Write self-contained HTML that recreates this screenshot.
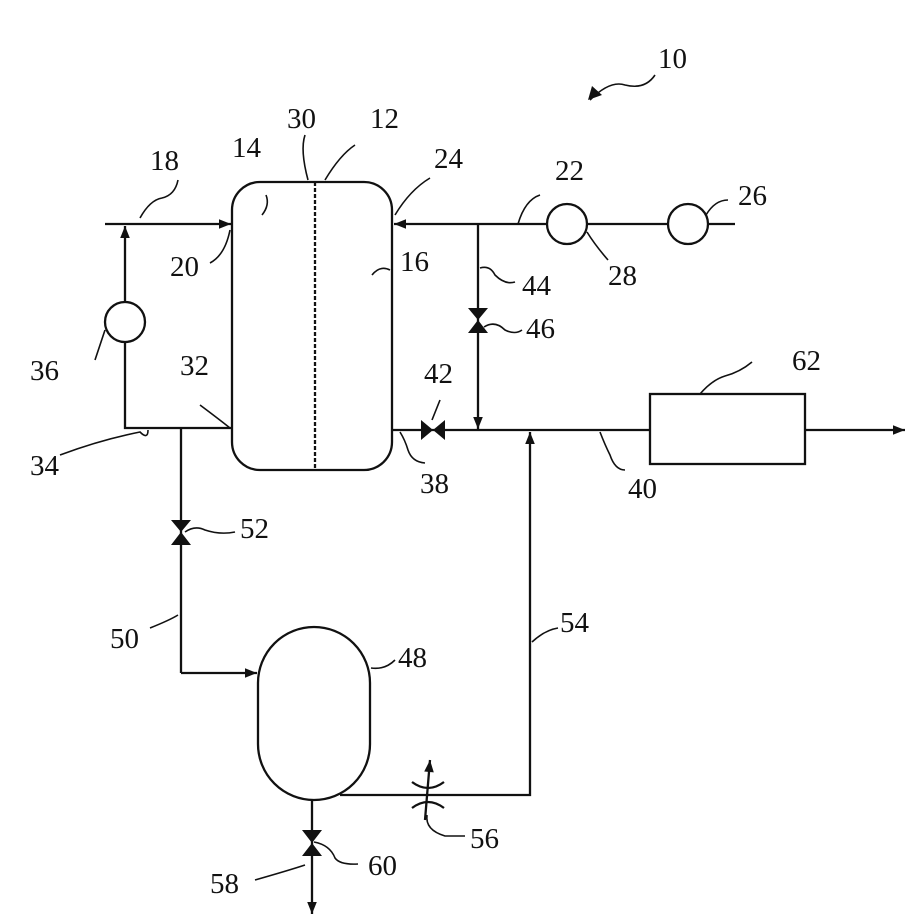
<!DOCTYPE html>
<html><head><style>body{margin:0;background:#fff}svg{display:block}text{font-family:"Liberation Serif",serif;font-size:29px;fill:#111}</style></head>
<body>
<svg width="924" height="919" viewBox="0 0 924 919" xmlns="http://www.w3.org/2000/svg">
<defs><marker id="a" viewBox="0 0 10 10" refX="10" refY="5" markerWidth="14" markerHeight="12" markerUnits="userSpaceOnUse" orient="auto"><path d="M0,1L10,5L0,9z" fill="#111"/></marker></defs>
<g stroke="#111" stroke-width="2.3" fill="none">
<rect x="232" y="182" width="160" height="288" rx="28"/>
<line x1="315" y1="182" x2="315" y2="470" stroke-dasharray="4,2"/>
<line x1="105" y1="224" x2="231" y2="224" marker-end="url(#a)"/>
<line x1="125" y1="302" x2="125" y2="226" marker-end="url(#a)"/>
<polyline points="125,342 125,428 232,428"/>
<circle cx="125" cy="322" r="20"/>
<line x1="547" y1="224" x2="394" y2="224" marker-end="url(#a)"/>
<line x1="587" y1="224" x2="668" y2="224"/>
<line x1="708" y1="224" x2="735" y2="224"/>
<circle cx="567" cy="224" r="20"/><circle cx="688" cy="224" r="20"/>
<line x1="478" y1="224" x2="478" y2="429" marker-end="url(#a)"/>
<line x1="392" y1="430" x2="650" y2="430"/>
<rect x="650" y="394" width="155" height="70"/>
<line x1="805" y1="430" x2="905" y2="430" marker-end="url(#a)"/>
<polyline points="340,795 530,795 530,432" marker-end="url(#a)"/>
<line x1="181" y1="428" x2="181" y2="673"/>
<line x1="181" y1="673" x2="257" y2="673" marker-end="url(#a)"/>
<rect x="258" y="627" width="112" height="173" rx="56"/>
<line x1="312" y1="800" x2="312" y2="914" marker-end="url(#a)"/>
<line x1="425" y1="820" x2="430" y2="760" marker-end="url(#a)"/>
<path d="M412,782 Q428,794 444,782 M412,808 Q428,796 444,808"/>
<g stroke-width="1.6">
<path d="M140,218 Q150,200 162,198 Q175,195 178,180"/>
<path d="M262,215 Q270,205 266,195"/>
<path d="M308,180 Q300,150 305,135"/>
<path d="M325,180 Q340,155 355,145"/>
<path d="M395,215 Q410,190 430,178"/>
<path d="M210,263 Q225,255 230,230"/>
<path d="M372,275 Q380,265 390,270"/>
<path d="M518,224 Q525,200 540,195"/>
<path d="M706,215 Q715,200 728,200"/>
<path d="M587,232 Q595,245 608,260"/>
<path d="M480,268 Q490,265 495,275 Q505,285 515,282"/>
<path d="M484,327 Q495,320 505,330 Q515,335 522,330"/>
<path d="M95,360 Q100,345 105,330"/>
<path d="M200,405 Q220,420 230,428"/>
<path d="M60,455 Q100,440 140,432 Q148,440 148,430"/>
<path d="M400,432 Q405,440 408,450 Q412,462 425,463"/>
<path d="M432,420 Q436,410 440,400"/>
<path d="M600,432 Q605,445 610,455 Q615,470 625,470"/>
<path d="M700,394 Q712,380 725,376 Q740,372 752,362"/>
<path d="M185,532 Q195,525 205,530 Q220,535 235,532"/>
<path d="M150,628 Q170,620 178,615"/>
<path d="M532,642 Q545,630 558,628"/>
<path d="M371,668 Q385,670 395,660"/>
<path d="M427,815 Q425,830 445,836 L465,836"/>
<path d="M314,842 Q330,845 335,858 Q340,865 358,864"/>
<path d="M255,880 Q290,870 305,865"/>
<path d="M590,100 Q610,80 625,85 Q645,90 655,75"/>
</g>
</g>
<g fill="#111">
<path d="M171,520L191,520L181,532zM171,545L191,545L181,532z"/>
<path d="M468,308L488,308L478,320zM468,333L488,333L478,320z"/>
<path d="M421,420L421,440L433,430zM445,420L445,440L433,430z"/>
<path d="M302,830L322,830L312,843zM302,856L322,856L312,843z"/>
<path d="M588,100L592,86L602,95z"/>
</g>
<text x="658" y="68">10</text>
<text x="150" y="170">18</text>
<text x="232" y="157">14</text>
<text x="287" y="128">30</text>
<text x="370" y="128">12</text>
<text x="434" y="168">24</text>
<text x="555" y="180">22</text>
<text x="738" y="205">26</text>
<text x="170" y="276">20</text>
<text x="400" y="271">16</text>
<text x="522" y="295">44</text>
<text x="608" y="285">28</text>
<text x="526" y="338">46</text>
<text x="30" y="380">36</text>
<text x="180" y="375">32</text>
<text x="424" y="383">42</text>
<text x="792" y="370">62</text>
<text x="30" y="475">34</text>
<text x="420" y="493">38</text>
<text x="628" y="498">40</text>
<text x="240" y="538">52</text>
<text x="110" y="648">50</text>
<text x="560" y="632">54</text>
<text x="398" y="667">48</text>
<text x="470" y="848">56</text>
<text x="368" y="875">60</text>
<text x="210" y="893">58</text>
</svg>
</body></html>
